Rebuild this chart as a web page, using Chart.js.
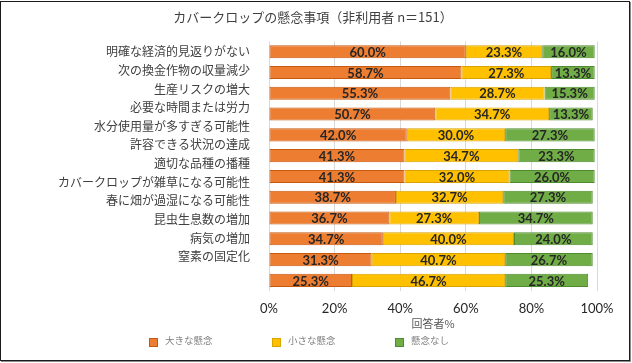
<!DOCTYPE html>
<html>
<head>
<meta charset="utf-8">
<script src="https://cdn.jsdelivr.net/npm/chart.js@4"></script>
<style>
  html, body { margin: 0; padding: 0; background: #fff; }
  #wrap { position: relative; width: 632px; height: 363px; overflow: hidden; }
  #frame {
    position: absolute; left: 0; top: 1px; width: 630px; height: 360px;
    box-sizing: border-box; border: 1px solid #1a1a1a;
    box-shadow: 1px 1px 0 #8c8c8c;
  }
  #chartBox { position: absolute; left: 29px; top: 0; width: 603px; height: 363px; }
  #legend {
    position: absolute; left: 149px; top: 333px; display: flex;
    font-family: "Noto Sans CJK JP", sans-serif; font-size: 9.5px; color: #7f7f7f;
  }
  .item { width: 123px; display: flex; align-items: center; }
  .box { width: 7px; height: 7px; border: 1px solid; margin-right: 7px; margin-top: 5px; }
</style>
</head>
<body>
<div id="wrap">
  <div id="frame"></div>
  <div id="chartBox"><canvas id="concernChart" width="603" height="363"></canvas></div>
  <div id="legend"></div>
</div>
<script>
// rows top to bottom
const concerns = [
  '明確な経済的見返りがない',
  '次の換金作物の収量減少',
  '生産リスクの増大',
  '必要な時間または労力',
  '水分使用量が多すぎる可能性',
  '許容できる状況の達成',
  '適切な品種の播種',
  'カバークロップが雑草になる可能性',
  '春に畑が過湿になる可能性',
  '昆虫生息数の増加',
  '病気の増加',
  '窒素の固定化'
];
const seriesNames  = ['大きな懸念', '小さな懸念', '懸念なし'];
const bigConcern   = [60.0, 58.7, 55.3, 50.7, 42.0, 41.3, 41.3, 38.7, 36.7, 34.7, 31.3, 25.3];
const smallConcern = [23.3, 27.3, 28.7, 34.7, 30.0, 34.7, 32.0, 32.7, 27.3, 40.0, 40.7, 46.7];
const noConcern    = [16.0, 13.3, 15.3, 13.3, 27.3, 23.3, 26.0, 27.3, 34.7, 24.0, 26.7, 25.3];
const xTicks = [0, 20, 40, 60, 80, 100];

const fills   = ['#ED7D31', '#FFC000', '#70AD47'];
const borders = ['#C55A11', '#D9A400', '#4F8A2E'];

// value labels in the middle of each segment
const barLabels = {
  id: 'barLabels',
  afterDatasetsDraw(chart) {
    const ctx = chart.ctx;
    ctx.save();
    ctx.font = 'bold 13px Lato, sans-serif';
    ctx.fillStyle = '#262626';
    ctx.textAlign = 'center';
    ctx.textBaseline = 'middle';
    chart.data.datasets.forEach((ds, i) => {
      chart.getDatasetMeta(i).data.forEach((bar, j) => {
        const v = ds.data[j];
        if (v == null) return;
        ctx.fillText(v.toFixed(1) + '%', (bar.x + bar.base) / 2, bar.y + 1);
      });
    });
    ctx.restore();
  }
};

const chart = new Chart(document.getElementById('concernChart'), {
  type: 'bar',
  data: {
    labels: concerns,
    datasets: [bigConcern, smallConcern, noConcern].map((d, i) => ({
      label: seriesNames[i],
      data: d,
      yAxisID: 'y',
      backgroundColor: fills[i],
      borderColor: borders[i],
      borderWidth: 1,
      borderSkipped: false,
      barPercentage: 0.63,
      categoryPercentage: 1
    }))
  },
  options: {
    indexAxis: 'y',
    responsive: false,
    animation: false,
    layout: { autoPadding: false, padding: { top: 9, right: 35, bottom: 29, left: 0 } },
    plugins: {
      legend: { display: false },
      tooltip: { enabled: false },
      title: {
        display: true,
        text: 'カバークロップの懸念事項（非利用者 n＝151）',
        color: '#404040',
        font: { family: '"Noto Sans CJK JP", sans-serif', size: 13, weight: 'normal' },
        padding: { top: 0, bottom: 16.7 }
      }
    },
    scales: {
      x: {
        stacked: true,
        min: 0,
        max: 100,
        afterBuildTicks: (s) => { s.ticks = xTicks.map(v => ({ value: v })); },
        afterFit: (s) => { s.height = 43.2; },
        ticks: {
          padding: 10,
          color: '#262626',
          font: { family: 'Lato, sans-serif', size: 13 },
          callback: (v) => v + '%'
        },
        grid: { color: '#d9d9d9', drawTicks: false },
        border: { display: false },
        title: {
          display: true,
          text: '回答者%',
          color: '#595959',
          font: { family: '"Noto Sans CJK JP", sans-serif', size: 11 },
          padding: { top: 0, bottom: 4 }
        }
      },
      // bars sit on this category axis
      y: {
        type: 'category',
        stacked: true,
        display: false
      },
      // the row labels in the original are packed tighter than the bars
      labelsAxis: {
        type: 'linear',
        position: 'left',
        reverse: true,
        offset: false,
        bounds: 'data',
        min: -0.559,
        max: 12.83,
        afterBuildTicks: (s) => { s.ticks = concerns.map((c, i) => ({ value: i })); },
        afterFit: (s) => { s.width = 240; },
        ticks: {
          padding: 11,
          color: '#404040',
          font: { family: '"Noto Sans CJK JP", sans-serif', size: 12 },
          callback: (v) => concerns[v]
        },
        grid: { display: false },
        border: { display: false }
      }
    }
  },
  plugins: [barLabels]
});

// legend
const legend = document.getElementById('legend');
chart.data.datasets.forEach((ds) => {
  const item = document.createElement('div');
  item.className = 'item';
  const box = document.createElement('span');
  box.className = 'box';
  box.style.background = ds.backgroundColor;
  box.style.borderColor = ds.borderColor;
  const txt = document.createElement('span');
  txt.textContent = ds.label;
  item.appendChild(box);
  item.appendChild(txt);
  legend.appendChild(item);
});
</script>
</body>
</html>
